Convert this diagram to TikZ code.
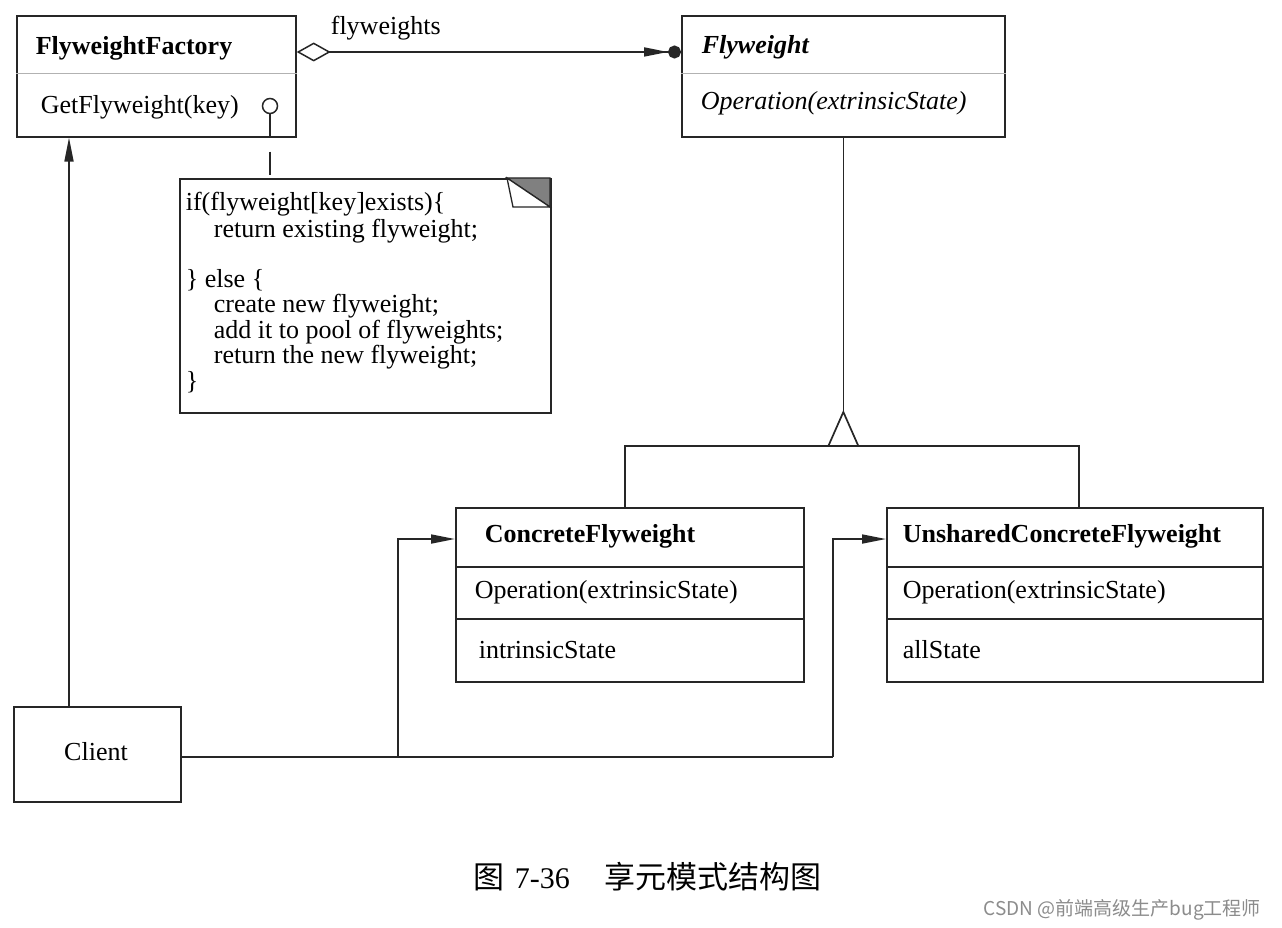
\documentclass[tikz,border=0pt]{standalone}
\usepackage{fontspec}
\setmainfont{Liberation Serif}
\newfontfamily\cjk{Noto Sans CJK SC}
\usetikzlibrary{arrows.meta,calc}
\begin{document}
\begin{tikzpicture}[x=1pt,y=-1pt,
  line width=1.7pt, draw=black!85,
  box/.style={draw=black!85, line width=1.7pt, inner sep=0, anchor=north west},
  lbl/.style={inner sep=0, anchor=base west, font=\fontsize{26}{30}\selectfont},
  bl/.style={inner sep=0, anchor=base west, font=\fontsize{26}{30}\selectfont\bfseries},
  il/.style={inner sep=0, anchor=base west, font=\fontsize{26}{30}\selectfont\itshape},
  bil/.style={inner sep=0, anchor=base west, font=\fontsize{26}{30}\selectfont\bfseries\itshape},
  divider/.style={draw=black!30, line width=1pt},
  sep/.style={draw=black!85, line width=1.7pt},
  tip/.style={-{Triangle[length=24pt,width=9pt]}},
]
\fill[white] (0,0) rectangle (1282,928);
\useasboundingbox (0,0) rectangle (1282,928);

% boxes
\node[box, minimum width=279pt, minimum height=121pt] (ff) at (16,15) {};
\node[box, minimum width=323pt, minimum height=121pt] (fw) at (681,15) {};
\node[box, minimum width=371pt, minimum height=234pt] (note) at (179,178) {};
\node[box, minimum width=348pt, minimum height=174pt] (cf) at (455,507) {};
\node[box, minimum width=376pt, minimum height=174pt] (ucf) at (886,507) {};
\node[box, minimum width=167pt, minimum height=95pt] (cl) at (13,706) {};

% dividers
\coordinate (d1) at (0,74);
\coordinate (d2) at (0,567);
\coordinate (d3) at (0,619);
\draw[divider] (ff.west |- d1) -- (ff.east |- d1);
\draw[divider] (fw.west |- d1) -- (fw.east |- d1);
\draw[sep] (cf.west |- d2) -- (cf.east |- d2);
\draw[sep] (cf.west |- d3) -- (cf.east |- d3);
\draw[sep] (ucf.west |- d2) -- (ucf.east |- d2);
\draw[sep] (ucf.west |- d3) -- (ucf.east |- d3);

% texts
\node[bl] (ffT) at (35,55) {FlyweightFactory};
\node[lbl] (ffOp) at (40,114) {GetFlyweight(key)};
\node[lbl] (flyLbl) at (330,35) {flyweights};
\node[bil] (fwT) at (701,54) {Flyweight};
\node[il] (fwOp) at (700,110) {Operation(extrinsicState)};
\node[bl] (cfT) at (484,542) {ConcreteFlyweight};
\node[lbl] (cfOp) at (474,598) {Operation(extrinsicState)};
\node[lbl] (cfSt) at (478,658) {intrinsicState};
\node[bl] (ucfT) at (902,542) {UnsharedConcreteFlyweight};
\node[lbl] (ucfOp) at (902,598) {Operation(extrinsicState)};
\node[lbl] (ucfSt) at (902,658) {allState};
\node[lbl, anchor=base] (clT) at (96,760) {Client};

% note text
\node[lbl] (n1) at (185,211) {if(flyweight[key]exists)\{};
\node[lbl] (n2) at (213,237) {return existing flyweight;};
\node[lbl] (n3) at (185,287) {\} else \{};
\node[lbl] (n4) at (213,312) {create new flyweight;};
\node[lbl] (n5) at (213,338) {add it to pool of flyweights;};
\node[lbl] (n6) at (213,363) {return the new flyweight;};
\node[lbl] (n7) at (185,389) {\}};

% note fold
\filldraw[fill=black!50, line width=1.3pt] (507,178) -- (550,178) -- (550,207) -- cycle;
\filldraw[fill=white, line width=1.3pt] (507,178) -- (513,207) -- (550,207) -- cycle;

% lollipop and dashed link to note
\node[circle, draw=black!85, line width=1.5pt, minimum size=15pt, inner sep=0] (lol) at (270,106) {};
\draw (lol.south) -- (lol.south |- ff.south);
\draw[line width=1.4pt, dash pattern=on 0pt off 14pt on 23pt off 100pt] (lol.south |- ff.south) -- (lol.south |- note.north);

% aggregation flyweights
\draw[{Diamond[open,length=34pt,width=19pt,line width=1.5pt]}-{Triangle[length=24pt,width=9pt,sep=0pt] Circle[length=13pt,width=13pt]}]
  ($(ff.north east)+(0,37)$) -- ($(fw.north west)+(0,37)$);

% client -> factory
\coordinate (cx) at (69,0);
\draw[tip] (cl.north -| cx) -- (ff.south -| cx);

% generalization
\coordinate (ty) at (0,412);
\coordinate (triTop) at (fw.south |- ty);
\coordinate (genL) at (625,446);
\coordinate (genR) at (1079,446);
\draw (fw.south) -- (triTop);
\draw (cf.north -| genL) -- (genL) -- (genR) -- (ucf.north -| genR);
\filldraw[fill=white] (triTop) -- ++(-15,34) -- ++(30,0) -- cycle;

% client -> concrete flyweights
\coordinate (j1) at (398,757);
\coordinate (j2) at (833,757);
\coordinate (ya) at (0,539);
\draw (cl.east |- j1) -- (j2);
\draw[tip] (j1) -- (j1 |- ya) -- (cf.west |- ya);
\draw[tip] (j2) -- (j2 |- ya) -- (ucf.west |- ya);

% caption
\node[anchor=base west, inner sep=0] (cap) at (473,888)
  {{\fontsize{31}{34}\selectfont\cjk 图}\hspace{10pt}{\fontsize{30}{34}\selectfont 7-36}\hspace{35pt}{\fontsize{31}{34}\selectfont\cjk 享元模式结构图}};
\node[anchor=base west, inner sep=0, text=black!45] (wm) at (983,915)
  {\fontsize{19}{22}\selectfont\cjk CSDN @前端高级生产bug工程师};
\end{tikzpicture}
\end{document}
